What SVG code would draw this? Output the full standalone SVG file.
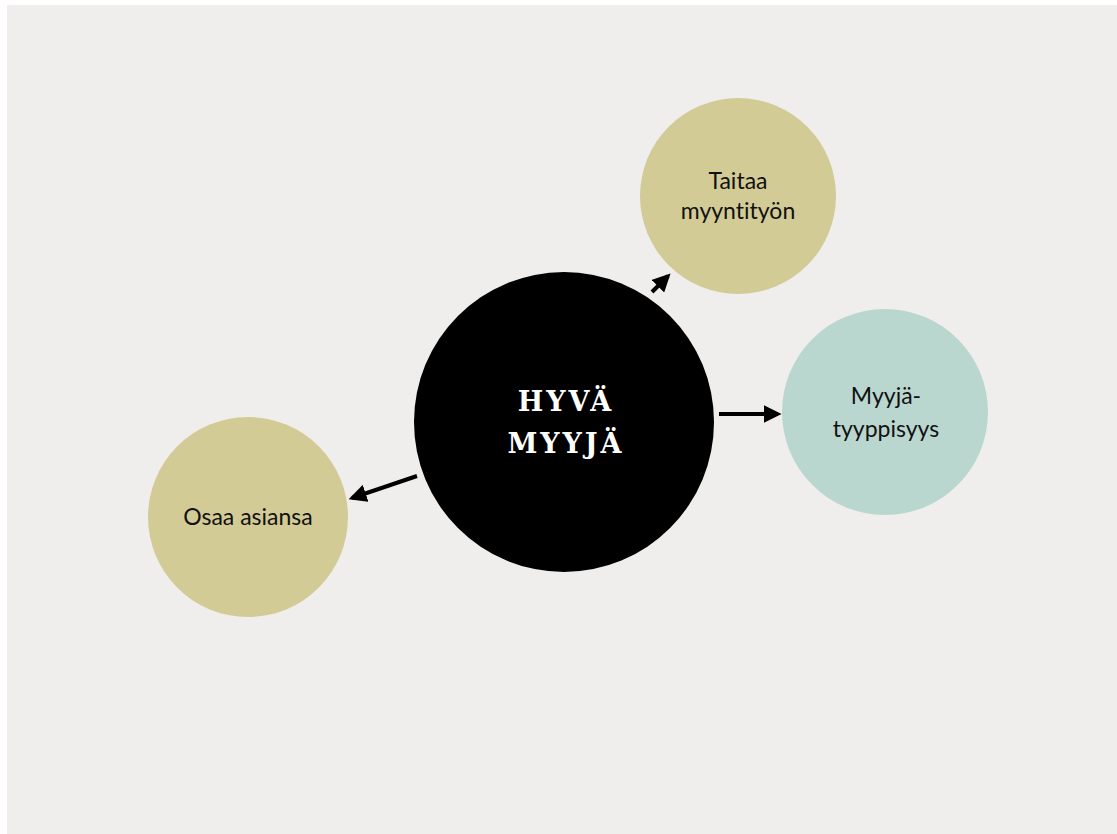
<svg xmlns="http://www.w3.org/2000/svg" width="1117" height="834" viewBox="0 0 1117 834">
<defs>
<style>
.lbl{font-family:Lato,"Noto Sans",sans-serif;font-size:23px;fill:#111;text-anchor:middle;font-variant-ligatures:none}
.ctr{font-family:"DejaVu Serif","Liberation Serif",serif;font-weight:bold;font-size:27px;fill:#fff;text-anchor:middle;letter-spacing:3px}
.con{stroke:#000;stroke-width:4;fill:none;marker-end:url(#ah)}
</style>
<marker id="ah" viewBox="0 0 10 10" refX="8" refY="5" markerWidth="4.5" markerHeight="4.5" orient="auto" markerUnits="strokeWidth">
<path d="M0,0 L10,5 L0,10 z" fill="#000"/>
</marker>
</defs>
<rect x="0" y="0" width="1117" height="834" fill="#fff"/>
<rect x="7" y="5" width="1110" height="829" fill="#efeeec"/>
<g id="connectors">
<line class="con" x1="652" y1="292" x2="668" y2="276"/>
<line class="con" x1="719" y1="414" x2="778" y2="414"/>
<line class="con" x1="417" y1="476" x2="352" y2="498"/>
</g>
<g id="center">
<circle cx="564" cy="422" r="150" fill="#000"/>
<text class="ctr" x="566" y="411">HYVÄ</text>
<text class="ctr" x="566" y="453">MYYJÄ</text>
</g>
<g id="taitaa">
<circle cx="738" cy="196" r="98" fill="#d3cb95"/>
<text class="lbl" x="738" y="189">Taitaa</text>
<text class="lbl" x="738" y="219">myyntityön</text>
</g>
<g id="myyja">
<circle cx="885" cy="412" r="103" fill="#bad7cf"/>
<text class="lbl" x="886" y="404">Myyjä-</text>
<text class="lbl" x="886" y="437">tyyppisyys</text>
</g>
<g id="osaa">
<circle cx="248" cy="517" r="100" fill="#d3cb95"/>
<text class="lbl" x="248" y="525">Osaa asiansa</text>
</g>
</svg>
